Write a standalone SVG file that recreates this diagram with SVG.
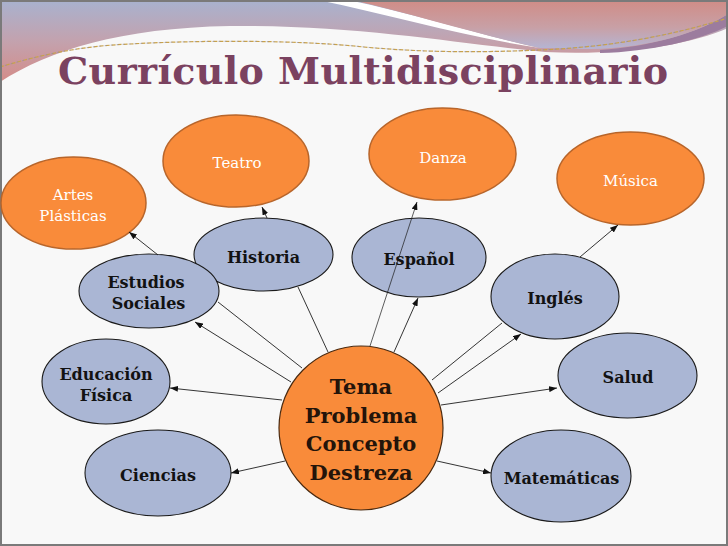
<svg xmlns="http://www.w3.org/2000/svg" width="728" height="546" viewBox="0 0 728 546">
  <style>
    .outer { fill: #F98B3A; stroke: #B8652A; stroke-width: 1.5; }
    .subj { fill: #AAB6D4; stroke: #1A1A1A; stroke-width: 1.1; }
    .core { fill: #F98B3A; stroke: #4A2A10; stroke-width: 1.2; }
    .otxt { font-family: "DejaVu Serif", "Liberation Serif", serif; font-size: 15px; fill: #FFFFFF; text-anchor: middle; }
    .stxt { font-family: "DejaVu Serif", "Liberation Serif", serif; font-size: 16px; font-weight: bold; fill: #121212; text-anchor: middle; }
    .ctxt { font-family: "DejaVu Serif", "Liberation Serif", serif; font-size: 21px; font-weight: bold; fill: #24140A; text-anchor: middle; }
    .title { font-family: "DejaVu Serif", "Liberation Serif", serif; font-size: 38px; font-weight: bold; fill: #7B4260; }
    .edge { stroke: #1E1E1E; stroke-width: 0.9; fill: none; }
    .arr { marker-end: url(#ah); }
  </style>
  <defs>
    <linearGradient id="gA" x1="0" y1="0" x2="0" y2="82" gradientUnits="userSpaceOnUse">
      <stop offset="0" stop-color="#A8B2CF"/>
      <stop offset="0.5" stop-color="#C3A2AE"/>
      <stop offset="1" stop-color="#D48C88"/>
    </linearGradient>
    <linearGradient id="gB" x1="0" y1="0" x2="0" y2="50" gradientUnits="userSpaceOnUse">
      <stop offset="0" stop-color="#D08C86"/>
      <stop offset="0.55" stop-color="#C8A0A6"/>
      <stop offset="1" stop-color="#B4B6D6"/>
    </linearGradient>
    <marker id="ah" markerUnits="userSpaceOnUse" markerWidth="8" markerHeight="6" refX="8" refY="3" orient="auto">
      <path d="M0,0 L8,3 L0,6 Z" fill="#111"/>
    </marker>
  </defs>

  <!-- background -->
  <rect x="0" y="0" width="728" height="546" fill="#F8F8F8"/>

  <!-- header decoration -->
  <g id="header">
    <path d="M0,0 H728 V28 C690,45 620,56 545,52 C460,44 360,25 230,26 C120,28 50,50 0,82 Z" fill="url(#gA)"/>
    <path d="M600,50 C650,47 700,32 728,14 L728,26 C700,40 650,52 600,53 Z" fill="#9C7C9E"/>
    <path d="M318,0 L348,0 C420,15 480,35 540,48 C470,38 395,16 318,0 Z" fill="#FFFFFF"/>
    <path d="M352,0 H728 V14 C700,32 650,48 590,49 C570,49 555,48 540,48 C480,35 420,16 352,0 Z" fill="url(#gB)"/>
    <path d="M0,67 C40,55 80,46 130,44 C200,40 300,40 364,47 C420,52 470,53 540,50 C610,47 670,36 728,18" fill="none" stroke="#C9A24A" stroke-width="1.2" stroke-dasharray="4 2"/>
    <path d="M0,67 C40,55 80,46 130,44 C200,40 300,40 364,47 C420,52 470,53 540,50 C610,47 670,36 728,18" fill="none" stroke="#8C8CA8" stroke-width="0.6" stroke-dasharray="2 4" stroke-dashoffset="1"/>
  </g>

  <!-- frame -->
  <rect x="1" y="1" width="726" height="544" fill="none" stroke="#7A7A7A" stroke-width="2"/>

  <!-- title -->
  <text id="title" class="title" x="58" y="84" textLength="610" lengthAdjust="spacing">Currículo Multidisciplinario</text>

  <!-- outer (arts) nodes -->
  <g id="artes">
    <ellipse class="outer" cx="73.5" cy="203" rx="72.5" ry="46"/>
    <text class="otxt" x="73" y="200">Artes</text>
    <text class="otxt" x="73" y="221">Plásticas</text>
  </g>
  <g id="teatro">
    <ellipse class="outer" cx="236" cy="161" rx="73" ry="46"/>
    <text class="otxt" x="237" y="168">Teatro</text>
  </g>
  <g id="danza">
    <ellipse class="outer" cx="442.5" cy="154" rx="73.5" ry="46"/>
    <text class="otxt" x="443" y="163">Danza</text>
  </g>
  <g id="musica">
    <ellipse class="outer" cx="630.5" cy="178.5" rx="73.5" ry="46.5"/>
    <text class="otxt" x="630.5" y="186">Música</text>
  </g>

  <!-- subject nodes -->
  <g id="historia">
    <ellipse class="subj" cx="263.5" cy="254.5" rx="69.5" ry="36.5"/>
    <text class="stxt" x="263.5" y="263">Historia</text>
  </g>
  <g id="estudios">
    <ellipse class="subj" cx="149" cy="291" rx="70" ry="37"/>
    <text class="stxt" x="146" y="288">Estudios</text>
    <text class="stxt" x="148.5" y="309">Sociales</text>
  </g>
  <g id="espanol">
    <ellipse class="subj" cx="419" cy="257.5" rx="67" ry="39.5"/>
    <text class="stxt" x="419" y="265">Español</text>
  </g>
  <g id="ingles">
    <ellipse class="subj" cx="555" cy="296.5" rx="64" ry="42.5"/>
    <text class="stxt" x="555" y="304">Inglés</text>
  </g>
  <g id="educacion">
    <ellipse class="subj" cx="106" cy="381.5" rx="64" ry="42.5"/>
    <text class="stxt" x="106" y="380">Educación</text>
    <text class="stxt" x="106" y="401">Física</text>
  </g>
  <g id="salud">
    <ellipse class="subj" cx="627.5" cy="375.5" rx="69.5" ry="42.5"/>
    <text class="stxt" x="628" y="383">Salud</text>
  </g>
  <g id="ciencias">
    <ellipse class="subj" cx="158" cy="473" rx="73" ry="43"/>
    <text class="stxt" x="158" y="481">Ciencias</text>
  </g>
  <g id="matematicas">
    <ellipse class="subj" cx="561" cy="476" rx="70" ry="46"/>
    <text class="stxt" x="561.5" y="484">Matemáticas</text>
  </g>

  <!-- central node -->
  <g id="centro">
    <circle class="core" cx="361" cy="428" r="82"/>
    <text class="ctxt" x="361" y="394">Tema</text>
    <text class="ctxt" x="361" y="423">Problema</text>
    <text class="ctxt" x="361" y="451">Concepto</text>
    <text class="ctxt" x="361" y="480">Destreza</text>
  </g>

  <!-- connectors -->
  <g id="connectors">
    <line class="edge arr" x1="291" y1="382" x2="195" y2="322"/>
    <line class="edge" x1="302" y1="368" x2="218" y2="302"/>
    <line class="edge" x1="328" y1="352" x2="298" y2="287"/>
    <line class="edge arr" x1="370" y1="346" x2="417" y2="202" stroke-opacity="0.8"/>
    <line class="edge arr" x1="394" y1="352" x2="418" y2="298"/>
    <line class="edge" x1="432" y1="380" x2="502" y2="323"/>
    <line class="edge arr" x1="438" y1="393" x2="521" y2="334"/>
    <line class="edge arr" x1="441" y1="405" x2="557" y2="388"/>
    <line class="edge arr" x1="437" y1="461" x2="491" y2="473"/>
    <line class="edge arr" x1="282" y1="400" x2="170" y2="388"/>
    <line class="edge arr" x1="285" y1="461" x2="231" y2="473"/>
    <line class="edge arr" x1="158" y1="255" x2="129" y2="232"/>
    <line class="edge arr" x1="267" y1="218" x2="262" y2="207"/>
    <line class="edge arr" x1="580" y1="257" x2="618" y2="225"/>
  </g>
</svg>
